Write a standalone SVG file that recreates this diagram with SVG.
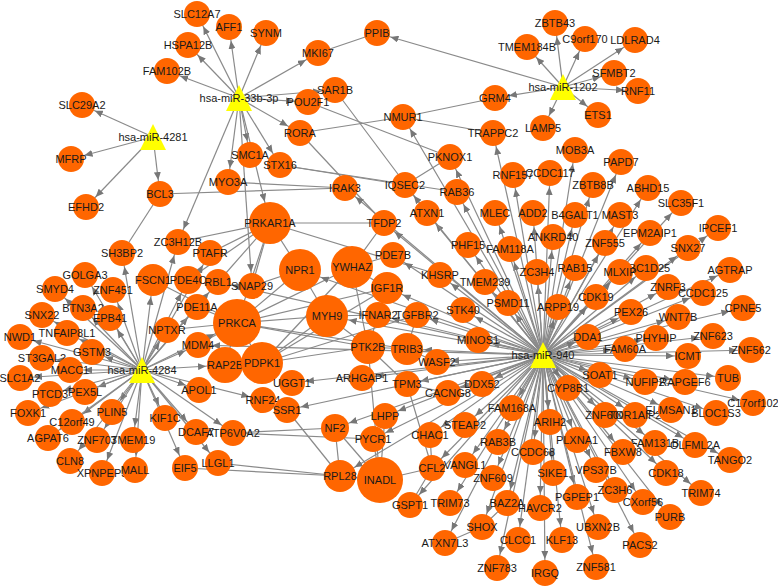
<svg xmlns="http://www.w3.org/2000/svg" width="778" height="588" viewBox="0 0 778 588">
<style>
.e{stroke:#8a8a8a;stroke-width:1.2;fill:none}
.p{stroke:#8a8a8a;stroke-width:1.2;fill:none}
.m13{marker-end:url(#a13)}
.m14{marker-end:url(#a14)}
.m16{marker-end:url(#a16)}
.m17{marker-end:url(#a17)}
.m18{marker-end:url(#a18)}
.m21{marker-end:url(#a21)}
.m23{marker-end:url(#a23)}
.m24{marker-end:url(#a24)}
.n circle{fill:#FF6600}
.h polygon{fill:#FFFF00}
text{font-family:"Liberation Sans",Arial,sans-serif;font-size:11px;fill:#1a1a1a;text-anchor:middle;dominant-baseline:central}
.ah{fill:#777777}
</style>
<defs>
<marker id="a13" markerUnits="userSpaceOnUse" markerWidth="9" markerHeight="7" refX="22" refY="3.5" orient="auto"><path class="ah" d="M0,0L8,3.5L0,7z"/></marker>
<marker id="a14" markerUnits="userSpaceOnUse" markerWidth="9" markerHeight="7" refX="23" refY="3.5" orient="auto"><path class="ah" d="M0,0L8,3.5L0,7z"/></marker>
<marker id="a16" markerUnits="userSpaceOnUse" markerWidth="9" markerHeight="7" refX="25" refY="3.5" orient="auto"><path class="ah" d="M0,0L8,3.5L0,7z"/></marker>
<marker id="a17" markerUnits="userSpaceOnUse" markerWidth="9" markerHeight="7" refX="26" refY="3.5" orient="auto"><path class="ah" d="M0,0L8,3.5L0,7z"/></marker>
<marker id="a18" markerUnits="userSpaceOnUse" markerWidth="9" markerHeight="7" refX="27" refY="3.5" orient="auto"><path class="ah" d="M0,0L8,3.5L0,7z"/></marker>
<marker id="a21" markerUnits="userSpaceOnUse" markerWidth="9" markerHeight="7" refX="30" refY="3.5" orient="auto"><path class="ah" d="M0,0L8,3.5L0,7z"/></marker>
<marker id="a23" markerUnits="userSpaceOnUse" markerWidth="9" markerHeight="7" refX="32" refY="3.5" orient="auto"><path class="ah" d="M0,0L8,3.5L0,7z"/></marker>
<marker id="a24" markerUnits="userSpaceOnUse" markerWidth="9" markerHeight="7" refX="33" refY="3.5" orient="auto"><path class="ah" d="M0,0L8,3.5L0,7z"/></marker>
</defs>
<g id="connectors">
<!-- PPI edges -->
<path class="p" d="M160,194L345,188"/>
<path class="p" d="M160,194L122,253"/>
<path class="p" d="M318,53L377,33"/>
<path class="p" d="M495,98L403,117"/>
<path class="p" d="M403,117L493,133"/>
<path class="p" d="M403,117L300,133"/>
<path class="p" d="M335,90L427,213"/>
<path class="p" d="M308,102L450,157"/>
<path class="p" d="M300,133L384,223"/>
<path class="p" d="M280,165L405,185"/>
<path class="p" d="M280,165L457,192"/>
<path class="p" d="M228,182L345,188"/>
<path class="p" d="M405,185L450,157"/>
<path class="p" d="M270,223L300,270"/>
<path class="p" d="M270,223L237,323"/>
<path class="p" d="M270,223L210,253"/>
<path class="p" d="M270,223L218,282"/>
<path class="p" d="M270,223L252,286"/>
<path class="p" d="M270,223L384,223"/>
<path class="p" d="M270,223L440,275"/>
<path class="p" d="M270,223L188,280"/>
<path class="p" d="M270,223L178,242"/>
<path class="p" d="M300,270L327,316"/>
<path class="p" d="M300,270L237,323"/>
<path class="p" d="M300,270L252,286"/>
<path class="p" d="M352,267L387,288"/>
<path class="p" d="M352,267L237,323"/>
<path class="p" d="M352,267L368,347"/>
<path class="p" d="M352,267L384,223"/>
<path class="p" d="M352,267L262,363"/>
<path class="p" d="M352,267L393,255"/>
<path class="p" d="M237,323L262,363"/>
<path class="p" d="M237,323L327,316"/>
<path class="p" d="M237,323L368,347"/>
<path class="p" d="M237,323L225,365"/>
<path class="p" d="M237,323L197,307"/>
<path class="p" d="M237,323L198,345"/>
<path class="p" d="M237,323L387,288"/>
<path class="p" d="M237,323L407,349"/>
<path class="p" d="M237,323L153,280"/>
<path class="p" d="M237,323L167,330"/>
<path class="p" d="M327,316L368,347"/>
<path class="p" d="M327,316L262,363"/>
<path class="p" d="M327,316L378,315"/>
<path class="p" d="M368,347L262,363"/>
<path class="p" d="M368,347L407,349"/>
<path class="p" d="M368,347L387,288"/>
<path class="p" d="M368,347L407,384"/>
<path class="p" d="M368,347L380,480"/>
<path class="p" d="M262,363L387,288"/>
<path class="p" d="M262,363L225,365"/>
<path class="p" d="M262,363L417,315"/>
<path class="p" d="M380,480L340,476"/>
<path class="p" d="M380,480L335,428"/>
<path class="p" d="M380,480L373,439"/>
<path class="p" d="M380,480L432,468"/>
<path class="p" d="M380,480L385,416"/>
<path class="p" d="M340,476L287,410"/>
<path class="p" d="M340,476L218,463"/>
<path class="p" d="M340,476L185,468"/>
<path class="p" d="M340,476L335,428"/>
<path class="p" d="M335,428L233,433"/>
<path class="p" d="M373,439L233,433"/>
<path class="p" d="M432,468L430,435"/>
<path class="p" d="M432,468L410,505"/>
<path class="p" d="M432,468L407,384"/>
<path class="p" d="M482,527L445,543"/>
<path class="p" d="M482,527L507,503"/>
<path class="p" d="M407,384L448,393"/>
<path class="p" d="M407,349L417,315"/>
<path class="p" d="M407,349L437,362"/>
<!-- hsa-miR-4281 -->
<path class="e m13" d="M153,137L82,105"/>
<path class="e m13" d="M153,137L71,159"/>
<path class="e m13" d="M153,137L160,194"/>
<path class="e m13" d="M153,137L86,207"/>
<!-- hsa-miR-33b-3p -->
<path class="e m13" d="M239,98L197,14"/>
<path class="e m13" d="M239,98L229,27"/>
<path class="e m13" d="M239,98L266,33"/>
<path class="e m13" d="M239,98L188,45"/>
<path class="e m13" d="M239,98L167,71"/>
<path class="e m13" d="M239,98L318,53"/>
<path class="e m13" d="M239,98L335,90"/>
<path class="e m13" d="M239,98L308,102"/>
<path class="e m13" d="M239,98L300,133"/>
<path class="e m13" d="M239,98L250,155"/>
<path class="e m13" d="M239,98L280,165"/>
<path class="e m13" d="M239,98L228,182"/>
<path class="e m13" d="M239,98L178,242"/>
<path class="e m21" d="M239,98L270,223"/>
<path class="e m13" d="M239,98L252,286"/>
<!-- hsa-miR-1202 -->
<path class="e m13" d="M563,87L377,33"/>
<path class="e m13" d="M563,87L555,23"/>
<path class="e m13" d="M563,87L527,47"/>
<path class="e m13" d="M563,87L585,39"/>
<path class="e m13" d="M563,87L635,40"/>
<path class="e m13" d="M563,87L614,73"/>
<path class="e m13" d="M563,87L638,91"/>
<path class="e m13" d="M563,87L598,115"/>
<path class="e m13" d="M563,87L543,128"/>
<path class="e m13" d="M563,87L495,98"/>
<!-- hsa-miR-4284 -->
<path class="e m13" d="M142,370L122,253"/>
<path class="e m13" d="M142,370L85,275"/>
<path class="e m13" d="M142,370L55,289"/>
<path class="e m13" d="M142,370L113,290"/>
<path class="e m13" d="M142,370L83,308"/>
<path class="e m13" d="M142,370L42,315"/>
<path class="e m13" d="M142,370L110,318"/>
<path class="e m13" d="M142,370L67,333"/>
<path class="e m13" d="M142,370L20,337"/>
<path class="e m13" d="M142,370L92,352"/>
<path class="e m13" d="M142,370L42,358"/>
<path class="e m13" d="M142,370L70,370"/>
<path class="e m13" d="M142,370L20,378"/>
<path class="e m13" d="M142,370L50,394"/>
<path class="e m13" d="M142,370L85,392"/>
<path class="e m13" d="M142,370L28,413"/>
<path class="e m13" d="M142,370L72,422"/>
<path class="e m13" d="M142,370L48,438"/>
<path class="e m13" d="M142,370L112,412"/>
<path class="e m13" d="M142,370L97,440"/>
<path class="e m13" d="M142,370L133,440"/>
<path class="e m13" d="M142,370L70,461"/>
<path class="e m13" d="M142,370L102,473"/>
<path class="e m13" d="M142,370L135,470"/>
<path class="e m13" d="M142,370L165,418"/>
<path class="e m13" d="M142,370L185,468"/>
<path class="e m13" d="M142,370L196,432"/>
<path class="e m13" d="M142,370L199,390"/>
<path class="e m13" d="M142,370L198,345"/>
<path class="e m13" d="M142,370L167,330"/>
<path class="e m13" d="M142,370L197,307"/>
<path class="e m14" d="M142,370L188,280"/>
<path class="e m16" d="M142,370L153,280"/>
<path class="e m13" d="M142,370L178,242"/>
<path class="e m13" d="M142,370L218,282"/>
<path class="e m13" d="M142,370L210,253"/>
<path class="e m18" d="M142,370L225,365"/>
<path class="e m13" d="M142,370L233,433"/>
<path class="e m13" d="M142,370L263,400"/>
<path class="e m13" d="M142,370L218,463"/>
<path class="e m24" d="M142,370L237,323"/>
<!-- hsa-miR-940 -->
<path class="e m13" d="M543,355L403,117"/>
<path class="e m13" d="M543,355L450,157"/>
<path class="e m13" d="M543,355L493,133"/>
<path class="e m13" d="M543,355L513,175"/>
<path class="e m13" d="M543,355L550,173"/>
<path class="e m13" d="M543,355L575,150"/>
<path class="e m13" d="M543,355L593,185"/>
<path class="e m13" d="M543,355L621,162"/>
<path class="e m13" d="M543,355L648,188"/>
<path class="e m13" d="M543,355L681,203"/>
<path class="e m13" d="M543,355L718,228"/>
<path class="e m13" d="M543,355L620,215"/>
<path class="e m13" d="M543,355L650,233"/>
<path class="e m13" d="M543,355L605,243"/>
<path class="e m13" d="M543,355L688,248"/>
<path class="e m13" d="M543,355L575,215"/>
<path class="e m13" d="M543,355L575,268"/>
<path class="e m13" d="M543,355L620,272"/>
<path class="e m13" d="M543,355L646,268"/>
<path class="e m13" d="M543,355L730,270"/>
<path class="e m13" d="M543,355L668,287"/>
<path class="e m13" d="M543,355L596,297"/>
<path class="e m13" d="M543,355L703,293"/>
<path class="e m13" d="M543,355L631,312"/>
<path class="e m13" d="M543,355L678,317"/>
<path class="e m13" d="M543,355L743,308"/>
<path class="e m13" d="M543,355L588,337"/>
<path class="e m13" d="M543,355L656,338"/>
<path class="e m13" d="M543,355L713,336"/>
<path class="e m13" d="M543,355L625,349"/>
<path class="e m13" d="M543,355L688,356"/>
<path class="e m13" d="M543,355L751,350"/>
<path class="e m13" d="M543,355L600,375"/>
<path class="e m13" d="M543,355L645,382"/>
<path class="e m13" d="M543,355L685,382"/>
<path class="e m13" d="M543,355L728,378"/>
<path class="e m13" d="M543,355L753,403"/>
<path class="e m13" d="M543,355L605,415"/>
<path class="e m13" d="M543,355L635,415"/>
<path class="e m13" d="M543,355L671,410"/>
<path class="e m13" d="M543,355L716,413"/>
<path class="e m13" d="M543,355L655,443"/>
<path class="e m13" d="M543,355L695,445"/>
<path class="e m13" d="M543,355L730,460"/>
<path class="e m13" d="M543,355L623,452"/>
<path class="e m13" d="M543,355L666,473"/>
<path class="e m13" d="M543,355L701,493"/>
<path class="e m13" d="M543,355L596,470"/>
<path class="e m13" d="M543,355L615,490"/>
<path class="e m13" d="M543,355L643,502"/>
<path class="e m13" d="M543,355L670,517"/>
<path class="e m13" d="M543,355L577,440"/>
<path class="e m13" d="M543,355L577,497"/>
<path class="e m13" d="M543,355L598,527"/>
<path class="e m13" d="M543,355L640,545"/>
<path class="e m13" d="M543,355L596,567"/>
<path class="e m13" d="M543,355L562,540"/>
<path class="e m13" d="M543,355L545,573"/>
<path class="e m13" d="M543,355L540,508"/>
<path class="e m13" d="M543,355L553,473"/>
<path class="e m13" d="M543,355L533,452"/>
<path class="e m13" d="M543,355L550,422"/>
<path class="e m13" d="M543,355L568,388"/>
<path class="e m13" d="M543,355L512,408"/>
<path class="e m13" d="M543,355L498,442"/>
<path class="e m13" d="M543,355L493,478"/>
<path class="e m13" d="M543,355L507,503"/>
<path class="e m13" d="M543,355L518,540"/>
<path class="e m13" d="M543,355L497,568"/>
<path class="e m13" d="M543,355L482,527"/>
<path class="e m13" d="M543,355L445,543"/>
<path class="e m13" d="M543,355L450,503"/>
<path class="e m13" d="M543,355L465,465"/>
<path class="e m13" d="M543,355L465,425"/>
<path class="e m13" d="M543,355L432,468"/>
<path class="e m13" d="M543,355L430,435"/>
<path class="e m13" d="M543,355L410,505"/>
<path class="e m13" d="M543,355L482,384"/>
<path class="e m13" d="M543,355L448,393"/>
<path class="e m13" d="M543,355L407,384"/>
<path class="e m13" d="M543,355L437,362"/>
<path class="e m13" d="M543,355L478,340"/>
<path class="e m16" d="M543,355L407,349"/>
<path class="e m13" d="M543,355L463,310"/>
<path class="e m13" d="M543,355L417,315"/>
<path class="e m13" d="M543,355L440,275"/>
<path class="e m13" d="M543,355L508,303"/>
<path class="e m13" d="M543,355L558,307"/>
<path class="e m13" d="M543,355L485,282"/>
<path class="e m13" d="M543,355L537,272"/>
<path class="e m13" d="M543,355L468,245"/>
<path class="e m13" d="M543,355L510,249"/>
<path class="e m13" d="M543,355L553,237"/>
<path class="e m13" d="M543,355L495,213"/>
<path class="e m13" d="M543,355L533,213"/>
<path class="e m13" d="M543,355L427,213"/>
<path class="e m13" d="M543,355L457,192"/>
<path class="e m13" d="M543,355L405,185"/>
<path class="e m13" d="M543,355L393,255"/>
<path class="e m16" d="M543,355L387,288"/>
<path class="e m13" d="M543,355L378,315"/>
<path class="e m21" d="M543,355L327,316"/>
<path class="e m21" d="M543,355L300,270"/>
<path class="e m13" d="M543,355L345,188"/>
<path class="e m13" d="M543,355L384,223"/>
<path class="e m13" d="M543,355L362,378"/>
<path class="e m13" d="M543,355L292,383"/>
<path class="e m13" d="M543,355L385,416"/>
<path class="e m13" d="M543,355L373,439"/>
<path class="e m14" d="M543,355L335,428"/>
<path class="e m13" d="M543,355L287,410"/>
<path class="e m16" d="M543,355L340,476"/>
<path class="e m13" d="M543,355L198,345"/>
<path class="e m13" d="M543,355L218,282"/>
</g>
<g id="nodes">
<g id="n-SLC12A7" class="n"><circle cx="197" cy="14" r="13"/><text x="197" y="14">SLC12A7</text></g>
<g id="n-HSPA12B" class="n"><circle cx="188" cy="45" r="13"/><text x="188" y="45">HSPA12B</text></g>
<g id="n-FAM102B" class="n"><circle cx="167" cy="71" r="13"/><text x="167" y="71">FAM102B</text></g>
<g id="n-AFF1" class="n"><circle cx="229" cy="27" r="13"/><text x="229" y="27">AFF1</text></g>
<g id="n-SYNM" class="n"><circle cx="266" cy="33" r="13"/><text x="266" y="33">SYNM</text></g>
<g id="n-MKI67" class="n"><circle cx="318" cy="53" r="13"/><text x="318" y="53">MKI67</text></g>
<g id="n-PPIB" class="n"><circle cx="377" cy="33" r="13"/><text x="377" y="33">PPIB</text></g>
<g id="n-SAR1B" class="n"><circle cx="335" cy="90" r="13"/><text x="335" y="90">SAR1B</text></g>
<g id="n-POU2F1" class="n"><circle cx="308" cy="102" r="13"/><text x="308" y="102">POU2F1</text></g>
<g id="n-RORA" class="n"><circle cx="300" cy="133" r="13"/><text x="300" y="133">RORA</text></g>
<g id="n-SMC1A" class="n"><circle cx="250" cy="155" r="13"/><text x="250" y="155">SMC1A</text></g>
<g id="n-STX16" class="n"><circle cx="280" cy="165" r="13"/><text x="280" y="165">STX16</text></g>
<g id="n-MYO3A" class="n"><circle cx="228" cy="182" r="13"/><text x="228" y="182">MYO3A</text></g>
<g id="n-IRAK3" class="n"><circle cx="345" cy="188" r="13"/><text x="345" y="188">IRAK3</text></g>
<g id="n-SLC29A2" class="n"><circle cx="82" cy="105" r="13"/><text x="82" y="105">SLC29A2</text></g>
<g id="n-MFRP" class="n"><circle cx="71" cy="159" r="13"/><text x="71" y="159">MFRP</text></g>
<g id="n-BCL3" class="n"><circle cx="160" cy="194" r="13"/><text x="160" y="194">BCL3</text></g>
<g id="n-EFHD2" class="n"><circle cx="86" cy="207" r="13"/><text x="86" y="207">EFHD2</text></g>
<g id="n-ZBTB43" class="n"><circle cx="555" cy="23" r="13"/><text x="555" y="23">ZBTB43</text></g>
<g id="n-C9orf170" class="n"><circle cx="585" cy="39" r="13"/><text x="585" y="39">C9orf170</text></g>
<g id="n-TMEM184B" class="n"><circle cx="527" cy="47" r="13"/><text x="527" y="47">TMEM184B</text></g>
<g id="n-LDLRAD4" class="n"><circle cx="635" cy="40" r="13"/><text x="635" y="40">LDLRAD4</text></g>
<g id="n-SFMBT2" class="n"><circle cx="614" cy="73" r="13"/><text x="614" y="73">SFMBT2</text></g>
<g id="n-RNF11" class="n"><circle cx="638" cy="91" r="13"/><text x="638" y="91">RNF11</text></g>
<g id="n-ETS1" class="n"><circle cx="598" cy="115" r="13"/><text x="598" y="115">ETS1</text></g>
<g id="n-GRM4" class="n"><circle cx="495" cy="98" r="13"/><text x="495" y="98">GRM4</text></g>
<g id="n-LAMP5" class="n"><circle cx="543" cy="128" r="13"/><text x="543" y="128">LAMP5</text></g>
<g id="n-TRAPPC2" class="n"><circle cx="493" cy="133" r="13"/><text x="493" y="133">TRAPPC2</text></g>
<g id="n-NMUR1" class="n"><circle cx="403" cy="117" r="13"/><text x="403" y="117">NMUR1</text></g>
<g id="n-MOB3A" class="n"><circle cx="575" cy="150" r="13"/><text x="575" y="150">MOB3A</text></g>
<g id="n-PKNOX1" class="n"><circle cx="450" cy="157" r="13"/><text x="450" y="157">PKNOX1</text></g>
<g id="n-RNF157" class="n"><circle cx="513" cy="175" r="13"/><text x="513" y="175">RNF157</text></g>
<g id="n-CCDC117" class="n"><circle cx="550" cy="173" r="13"/><text x="550" y="173">CCDC117</text></g>
<g id="n-PAPD7" class="n"><circle cx="621" cy="162" r="13"/><text x="621" y="162">PAPD7</text></g>
<g id="n-ZBTB8B" class="n"><circle cx="593" cy="185" r="13"/><text x="593" y="185">ZBTB8B</text></g>
<g id="n-ABHD15" class="n"><circle cx="648" cy="188" r="13"/><text x="648" y="188">ABHD15</text></g>
<g id="n-IQSEC2" class="n"><circle cx="405" cy="185" r="13"/><text x="405" y="185">IQSEC2</text></g>
<g id="n-RAB36" class="n"><circle cx="457" cy="192" r="13"/><text x="457" y="192">RAB36</text></g>
<g id="n-SLC35F1" class="n"><circle cx="681" cy="203" r="13"/><text x="681" y="203">SLC35F1</text></g>
<g id="n-ZC3H12B" class="n"><circle cx="178" cy="242" r="13"/><text x="178" y="242">ZC3H12B</text></g>
<g id="n-SH3BP2" class="n"><circle cx="122" cy="253" r="13"/><text x="122" y="253">SH3BP2</text></g>
<g id="n-GOLGA3" class="n"><circle cx="85" cy="275" r="13"/><text x="85" y="275">GOLGA3</text></g>
<g id="n-FSCN1" class="n"><circle cx="153" cy="280" r="16"/><text x="153" y="280">FSCN1</text></g>
<g id="n-PDE4C" class="n"><circle cx="188" cy="280" r="14"/><text x="188" y="280">PDE4C</text></g>
<g id="n-SMYD4" class="n"><circle cx="55" cy="289" r="13"/><text x="55" y="289">SMYD4</text></g>
<g id="n-ZNF451" class="n"><circle cx="113" cy="290" r="13"/><text x="113" y="290">ZNF451</text></g>
<g id="n-BTN3A2" class="n"><circle cx="83" cy="308" r="13"/><text x="83" y="308">BTN3A2</text></g>
<g id="n-PDE11A" class="n"><circle cx="197" cy="307" r="13"/><text x="197" y="307">PDE11A</text></g>
<g id="n-SNX22" class="n"><circle cx="42" cy="315" r="13"/><text x="42" y="315">SNX22</text></g>
<g id="n-EPB41" class="n"><circle cx="110" cy="318" r="13"/><text x="110" y="318">EPB41</text></g>
<g id="n-TNFAIP8L1" class="n"><circle cx="67" cy="333" r="13"/><text x="67" y="333">TNFAIP8L1</text></g>
<g id="n-NPTXR" class="n"><circle cx="167" cy="330" r="13"/><text x="167" y="330">NPTXR</text></g>
<g id="n-NWD1" class="n"><circle cx="20" cy="337" r="13"/><text x="20" y="337">NWD1</text></g>
<g id="n-GSTM3" class="n"><circle cx="92" cy="352" r="13"/><text x="92" y="352">GSTM3</text></g>
<g id="n-MDM4" class="n"><circle cx="198" cy="345" r="13"/><text x="198" y="345">MDM4</text></g>
<g id="n-ST3GAL2" class="n"><circle cx="42" cy="358" r="13"/><text x="42" y="358">ST3GAL2</text></g>
<g id="n-MACC1" class="n"><circle cx="70" cy="370" r="13"/><text x="70" y="370">MACC1</text></g>
<g id="n-SLC1A2" class="n"><circle cx="20" cy="378" r="13"/><text x="20" y="378">SLC1A2</text></g>
<g id="n-PTCD3" class="n"><circle cx="50" cy="394" r="13"/><text x="50" y="394">PTCD3</text></g>
<g id="n-PEX5L" class="n"><circle cx="85" cy="392" r="13"/><text x="85" y="392">PEX5L</text></g>
<g id="n-APOL1" class="n"><circle cx="199" cy="390" r="13"/><text x="199" y="390">APOL1</text></g>
<g id="n-FOXK1" class="n"><circle cx="28" cy="413" r="13"/><text x="28" y="413">FOXK1</text></g>
<g id="n-PLIN5" class="n"><circle cx="112" cy="412" r="13"/><text x="112" y="412">PLIN5</text></g>
<g id="n-C12orf49" class="n"><circle cx="72" cy="422" r="13"/><text x="72" y="422">C12orf49</text></g>
<g id="n-KIF1C" class="n"><circle cx="165" cy="418" r="13"/><text x="165" y="418">KIF1C</text></g>
<g id="n-DCAF7" class="n"><circle cx="196" cy="432" r="13"/><text x="196" y="432">DCAF7</text></g>
<g id="n-AGPAT6" class="n"><circle cx="48" cy="438" r="13"/><text x="48" y="438">AGPAT6</text></g>
<g id="n-ZNF703" class="n"><circle cx="97" cy="440" r="13"/><text x="97" y="440">ZNF703</text></g>
<g id="n-TMEM19" class="n"><circle cx="133" cy="440" r="13"/><text x="133" y="440">TMEM19</text></g>
<g id="n-CLN8" class="n"><circle cx="70" cy="461" r="13"/><text x="70" y="461">CLN8</text></g>
<g id="n-XPNPEP3" class="n"><circle cx="102" cy="473" r="13"/><text x="102" y="473">XPNPEP3</text></g>
<g id="n-MALL" class="n"><circle cx="135" cy="470" r="13"/><text x="135" y="470">MALL</text></g>
<g id="n-EIF5" class="n"><circle cx="185" cy="468" r="13"/><text x="185" y="468">EIF5</text></g>
<g id="n-RNF24" class="n"><circle cx="263" cy="400" r="13"/><text x="263" y="400">RNF24</text></g>
<g id="n-SSR1" class="n"><circle cx="287" cy="410" r="13"/><text x="287" y="410">SSR1</text></g>
<g id="n-ATP6V0A2" class="n"><circle cx="233" cy="433" r="13"/><text x="233" y="433">ATP6V0A2</text></g>
<g id="n-NF2" class="n"><circle cx="335" cy="428" r="14"/><text x="335" y="428">NF2</text></g>
<g id="n-LHPP" class="n"><circle cx="385" cy="416" r="13"/><text x="385" y="416">LHPP</text></g>
<g id="n-PYCR1" class="n"><circle cx="373" cy="439" r="13"/><text x="373" y="439">PYCR1</text></g>
<g id="n-LLGL1" class="n"><circle cx="218" cy="463" r="13"/><text x="218" y="463">LLGL1</text></g>
<g id="n-RPL28" class="n"><circle cx="340" cy="476" r="16"/><text x="340" y="476">RPL28</text></g>
<g id="n-INADL" class="n"><circle cx="380" cy="480" r="23"/><text x="380" y="480">INADL</text></g>
<g id="n-PRKAR1A" class="n"><circle cx="270" cy="223" r="21"/><text x="270" y="223">PRKAR1A</text></g>
<g id="n-TFDP2" class="n"><circle cx="384" cy="223" r="13"/><text x="384" y="223">TFDP2</text></g>
<g id="n-PTAFR" class="n"><circle cx="210" cy="253" r="13"/><text x="210" y="253">PTAFR</text></g>
<g id="n-NPR1" class="n"><circle cx="300" cy="270" r="21"/><text x="300" y="270">NPR1</text></g>
<g id="n-YWHAZ" class="n"><circle cx="352" cy="267" r="21"/><text x="352" y="267">YWHAZ</text></g>
<g id="n-RBL1" class="n"><circle cx="218" cy="282" r="13"/><text x="218" y="282">RBL1</text></g>
<g id="n-SNAP29" class="n"><circle cx="252" cy="286" r="13"/><text x="252" y="286">SNAP29</text></g>
<g id="n-IGF1R" class="n"><circle cx="387" cy="288" r="16"/><text x="387" y="288">IGF1R</text></g>
<g id="n-PRKCA" class="n"><circle cx="237" cy="323" r="24"/><text x="237" y="323">PRKCA</text></g>
<g id="n-MYH9" class="n"><circle cx="327" cy="316" r="21"/><text x="327" y="316">MYH9</text></g>
<g id="n-IFNAR2" class="n"><circle cx="378" cy="315" r="13"/><text x="378" y="315">IFNAR2</text></g>
<g id="n-PTK2B" class="n"><circle cx="368" cy="347" r="17"/><text x="368" y="347">PTK2B</text></g>
<g id="n-RAP2B" class="n"><circle cx="225" cy="365" r="18"/><text x="225" y="365">RAP2B</text></g>
<g id="n-PDPK1" class="n"><circle cx="262" cy="363" r="21"/><text x="262" y="363">PDPK1</text></g>
<g id="n-UGGT1" class="n"><circle cx="292" cy="383" r="13"/><text x="292" y="383">UGGT1</text></g>
<g id="n-ARHGAP1" class="n"><circle cx="362" cy="378" r="13"/><text x="362" y="378">ARHGAP1</text></g>
<g id="n-ATXN1" class="n"><circle cx="427" cy="213" r="13"/><text x="427" y="213">ATXN1</text></g>
<g id="n-MLEC" class="n"><circle cx="495" cy="213" r="13"/><text x="495" y="213">MLEC</text></g>
<g id="n-ADD2" class="n"><circle cx="533" cy="213" r="13"/><text x="533" y="213">ADD2</text></g>
<g id="n-B4GALT1" class="n"><circle cx="575" cy="215" r="13"/><text x="575" y="215">B4GALT1</text></g>
<g id="n-ANKRD40" class="n"><circle cx="553" cy="237" r="13"/><text x="553" y="237">ANKRD40</text></g>
<g id="n-PHF15" class="n"><circle cx="468" cy="245" r="13"/><text x="468" y="245">PHF15</text></g>
<g id="n-FAM118A" class="n"><circle cx="510" cy="249" r="13"/><text x="510" y="249">FAM118A</text></g>
<g id="n-PDE7B" class="n"><circle cx="393" cy="255" r="13"/><text x="393" y="255">PDE7B</text></g>
<g id="n-ZC3H4" class="n"><circle cx="537" cy="272" r="13"/><text x="537" y="272">ZC3H4</text></g>
<g id="n-RAB15" class="n"><circle cx="575" cy="268" r="13"/><text x="575" y="268">RAB15</text></g>
<g id="n-KHSRP" class="n"><circle cx="440" cy="275" r="13"/><text x="440" y="275">KHSRP</text></g>
<g id="n-TMEM239" class="n"><circle cx="485" cy="282" r="13"/><text x="485" y="282">TMEM239</text></g>
<g id="n-PSMD11" class="n"><circle cx="508" cy="303" r="13"/><text x="508" y="303">PSMD11</text></g>
<g id="n-ARPP19" class="n"><circle cx="558" cy="307" r="13"/><text x="558" y="307">ARPP19</text></g>
<g id="n-STK40" class="n"><circle cx="463" cy="310" r="13"/><text x="463" y="310">STK40</text></g>
<g id="n-TGFBR2" class="n"><circle cx="417" cy="315" r="13"/><text x="417" y="315">TGFBR2</text></g>
<g id="n-MINOS1" class="n"><circle cx="478" cy="340" r="13"/><text x="478" y="340">MINOS1</text></g>
<g id="n-TRIB3" class="n"><circle cx="407" cy="349" r="16"/><text x="407" y="349">TRIB3</text></g>
<g id="n-WASF2" class="n"><circle cx="437" cy="362" r="13"/><text x="437" y="362">WASF2</text></g>
<g id="n-TPM3" class="n"><circle cx="407" cy="384" r="13"/><text x="407" y="384">TPM3</text></g>
<g id="n-CACNG8" class="n"><circle cx="448" cy="393" r="13"/><text x="448" y="393">CACNG8</text></g>
<g id="n-DDX52" class="n"><circle cx="482" cy="384" r="13"/><text x="482" y="384">DDX52</text></g>
<g id="n-CYP8B1" class="n"><circle cx="568" cy="388" r="13"/><text x="568" y="388">CYP8B1</text></g>
<g id="n-MAST3" class="n"><circle cx="620" cy="215" r="13"/><text x="620" y="215">MAST3</text></g>
<g id="n-IPCEF1" class="n"><circle cx="718" cy="228" r="13"/><text x="718" y="228">IPCEF1</text></g>
<g id="n-EPM2AIP1" class="n"><circle cx="650" cy="233" r="13"/><text x="650" y="233">EPM2AIP1</text></g>
<g id="n-ZNF555" class="n"><circle cx="605" cy="243" r="13"/><text x="605" y="243">ZNF555</text></g>
<g id="n-SNX27" class="n"><circle cx="688" cy="248" r="13"/><text x="688" y="248">SNX27</text></g>
<g id="n-TBC1D25" class="n"><circle cx="646" cy="268" r="13"/><text x="646" y="268">TBC1D25</text></g>
<g id="n-MLXIP" class="n"><circle cx="620" cy="272" r="13"/><text x="620" y="272">MLXIP</text></g>
<g id="n-AGTRAP" class="n"><circle cx="730" cy="270" r="13"/><text x="730" y="270">AGTRAP</text></g>
<g id="n-ZNRF3" class="n"><circle cx="668" cy="287" r="13"/><text x="668" y="287">ZNRF3</text></g>
<g id="n-CDK19" class="n"><circle cx="596" cy="297" r="13"/><text x="596" y="297">CDK19</text></g>
<g id="n-CCDC125" class="n"><circle cx="703" cy="293" r="13"/><text x="703" y="293">CCDC125</text></g>
<g id="n-PEX26" class="n"><circle cx="631" cy="312" r="13"/><text x="631" y="312">PEX26</text></g>
<g id="n-WNT7B" class="n"><circle cx="678" cy="317" r="13"/><text x="678" y="317">WNT7B</text></g>
<g id="n-CPNE5" class="n"><circle cx="743" cy="308" r="13"/><text x="743" y="308">CPNE5</text></g>
<g id="n-DDA1" class="n"><circle cx="588" cy="337" r="13"/><text x="588" y="337">DDA1</text></g>
<g id="n-PHYHIP" class="n"><circle cx="656" cy="338" r="13"/><text x="656" y="338">PHYHIP</text></g>
<g id="n-ZNF623" class="n"><circle cx="713" cy="336" r="13"/><text x="713" y="336">ZNF623</text></g>
<g id="n-FAM60A" class="n"><circle cx="625" cy="349" r="13"/><text x="625" y="349">FAM60A</text></g>
<g id="n-ICMT" class="n"><circle cx="688" cy="356" r="13"/><text x="688" y="356">ICMT</text></g>
<g id="n-ZNF562" class="n"><circle cx="751" cy="350" r="13"/><text x="751" y="350">ZNF562</text></g>
<g id="n-SOAT1" class="n"><circle cx="600" cy="375" r="13"/><text x="600" y="375">SOAT1</text></g>
<g id="n-NUFIP2" class="n"><circle cx="645" cy="382" r="13"/><text x="645" y="382">NUFIP2</text></g>
<g id="n-RAPGEF6" class="n"><circle cx="685" cy="382" r="13"/><text x="685" y="382">RAPGEF6</text></g>
<g id="n-TUB" class="n"><circle cx="728" cy="378" r="13"/><text x="728" y="378">TUB</text></g>
<g id="n-C17orf102" class="n"><circle cx="753" cy="403" r="13"/><text x="753" y="403">C17orf102</text></g>
<g id="n-ZNF600" class="n"><circle cx="605" cy="415" r="13"/><text x="605" y="415">ZNF600</text></g>
<g id="n-TOR1AIP2" class="n"><circle cx="635" cy="415" r="13"/><text x="635" y="415">TOR1AIP2</text></g>
<g id="n-ELMSAN1" class="n"><circle cx="671" cy="410" r="13"/><text x="671" y="410">ELMSAN1</text></g>
<g id="n-BLOC1S3" class="n"><circle cx="716" cy="413" r="13"/><text x="716" y="413">BLOC1S3</text></g>
<g id="n-FAM131B" class="n"><circle cx="655" cy="443" r="13"/><text x="655" y="443">FAM131B</text></g>
<g id="n-OLFML2A" class="n"><circle cx="695" cy="445" r="13"/><text x="695" y="445">OLFML2A</text></g>
<g id="n-FBXW8" class="n"><circle cx="623" cy="452" r="13"/><text x="623" y="452">FBXW8</text></g>
<g id="n-TANGO2" class="n"><circle cx="730" cy="460" r="13"/><text x="730" y="460">TANGO2</text></g>
<g id="n-PLXNA1" class="n"><circle cx="577" cy="440" r="13"/><text x="577" y="440">PLXNA1</text></g>
<g id="n-VPS37B" class="n"><circle cx="596" cy="470" r="13"/><text x="596" y="470">VPS37B</text></g>
<g id="n-CDK18" class="n"><circle cx="666" cy="473" r="13"/><text x="666" y="473">CDK18</text></g>
<g id="n-ZC3H6" class="n"><circle cx="615" cy="490" r="13"/><text x="615" y="490">ZC3H6</text></g>
<g id="n-TRIM74" class="n"><circle cx="701" cy="493" r="13"/><text x="701" y="493">TRIM74</text></g>
<g id="n-CXorf56" class="n"><circle cx="643" cy="502" r="13"/><text x="643" y="502">CXorf56</text></g>
<g id="n-PGPEP1" class="n"><circle cx="577" cy="497" r="13"/><text x="577" y="497">PGPEP1</text></g>
<g id="n-PURB" class="n"><circle cx="670" cy="517" r="13"/><text x="670" y="517">PURB</text></g>
<g id="n-UBXN2B" class="n"><circle cx="598" cy="527" r="13"/><text x="598" y="527">UBXN2B</text></g>
<g id="n-PACS2" class="n"><circle cx="640" cy="545" r="13"/><text x="640" y="545">PACS2</text></g>
<g id="n-ZNF581" class="n"><circle cx="596" cy="567" r="13"/><text x="596" y="567">ZNF581</text></g>
<g id="n-FAM168A" class="n"><circle cx="512" cy="408" r="13"/><text x="512" y="408">FAM168A</text></g>
<g id="n-ARIH2" class="n"><circle cx="550" cy="422" r="13"/><text x="550" y="422">ARIH2</text></g>
<g id="n-STEAP2" class="n"><circle cx="465" cy="425" r="13"/><text x="465" y="425">STEAP2</text></g>
<g id="n-CHAC1" class="n"><circle cx="430" cy="435" r="13"/><text x="430" y="435">CHAC1</text></g>
<g id="n-RAB3B" class="n"><circle cx="498" cy="442" r="13"/><text x="498" y="442">RAB3B</text></g>
<g id="n-CCDC68" class="n"><circle cx="533" cy="452" r="13"/><text x="533" y="452">CCDC68</text></g>
<g id="n-CFL2" class="n"><circle cx="432" cy="468" r="13"/><text x="432" y="468">CFL2</text></g>
<g id="n-VANGL1" class="n"><circle cx="465" cy="465" r="13"/><text x="465" y="465">VANGL1</text></g>
<g id="n-SIKE1" class="n"><circle cx="553" cy="473" r="13"/><text x="553" y="473">SIKE1</text></g>
<g id="n-ZNF609" class="n"><circle cx="493" cy="478" r="13"/><text x="493" y="478">ZNF609</text></g>
<g id="n-GSPT1" class="n"><circle cx="410" cy="505" r="13"/><text x="410" y="505">GSPT1</text></g>
<g id="n-TRIM73" class="n"><circle cx="450" cy="503" r="13"/><text x="450" y="503">TRIM73</text></g>
<g id="n-BAZ2A" class="n"><circle cx="507" cy="503" r="13"/><text x="507" y="503">BAZ2A</text></g>
<g id="n-HAVCR2" class="n"><circle cx="540" cy="508" r="13"/><text x="540" y="508">HAVCR2</text></g>
<g id="n-SHOX" class="n"><circle cx="482" cy="527" r="13"/><text x="482" y="527">SHOX</text></g>
<g id="n-ATXN7L3" class="n"><circle cx="445" cy="543" r="13"/><text x="445" y="543">ATXN7L3</text></g>
<g id="n-CLCC1" class="n"><circle cx="518" cy="540" r="13"/><text x="518" y="540">CLCC1</text></g>
<g id="n-KLF13" class="n"><circle cx="562" cy="540" r="13"/><text x="562" y="540">KLF13</text></g>
<g id="n-ZNF783" class="n"><circle cx="497" cy="568" r="13"/><text x="497" y="568">ZNF783</text></g>
<g id="n-IRGQ" class="n"><circle cx="545" cy="573" r="13"/><text x="545" y="573">IRGQ</text></g>
<g id="n-hsa-miR-4281" class="h"><polygon points="153,124 140,150 166,150"/><text x="153" y="137">hsa-miR-4281</text></g>
<g id="n-hsa-miR-33b-3p" class="h"><polygon points="239,85 226,111 252,111"/><text x="239" y="98">hsa-miR-33b-3p</text></g>
<g id="n-hsa-miR-1202" class="h"><polygon points="563,74 550,100 576,100"/><text x="563" y="87">hsa-miR-1202</text></g>
<g id="n-hsa-miR-4284" class="h"><polygon points="142,357 129,383 155,383"/><text x="142" y="370">hsa-miR-4284</text></g>
<g id="n-hsa-miR-940" class="h"><polygon points="543,342 530,368 556,368"/><text x="543" y="355">hsa-miR-940</text></g>
</g>
</svg>
